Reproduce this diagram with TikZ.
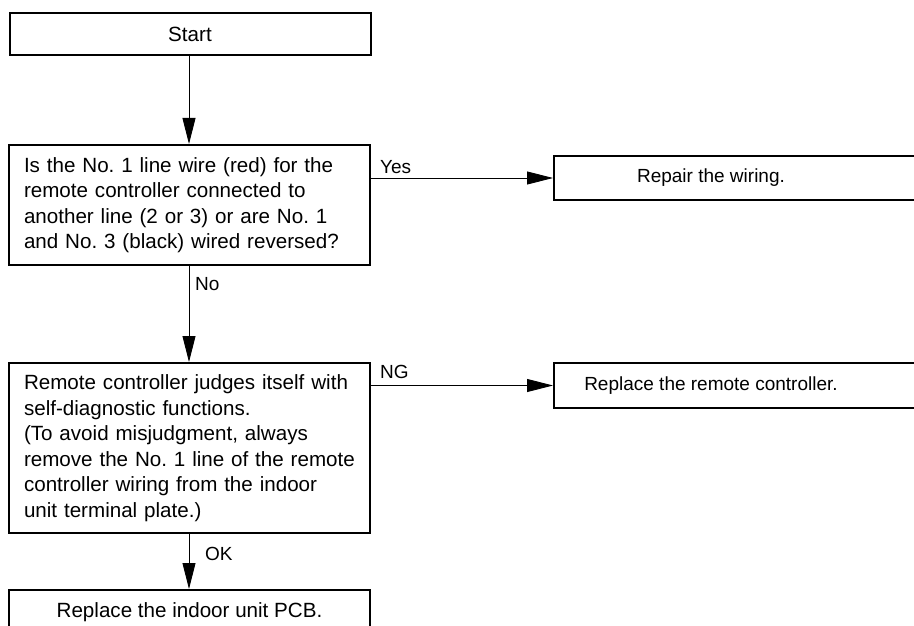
\documentclass[tikz,border=0pt]{standalone}
\usepackage{fontspec}
\setmainfont{Liberation Sans}
\frenchspacing
\usetikzlibrary{arrows.meta}
\begin{document}
\begin{tikzpicture}[x=1pt,y=-1pt,
  box/.style={draw, line width=2pt, inner sep=0pt},
  lbox/.style={box, minimum width=361pt, font=\fontsize{20.6}{25.5}\selectfont},
  ltext/.style={lbox, text width=331pt, align=left, inner xsep=15pt},
  rbox/.style={box, minimum width=420pt, minimum height=44pt, anchor=west, font=\fontsize{19}{23}\selectfont},
  lab/.style={anchor=base west, inner sep=0pt, font=\fontsize{19}{23}\selectfont},
  arr/.style={line width=0.9pt, -{Triangle[length=26pt,width=13pt]}}]
\useasboundingbox (0,0) rectangle (914,626);
\clip (0,0) rectangle (914,626);
\node[lbox, minimum height=42pt] (start) at (190,34) {Start};
\node[ltext, minimum height=120pt] (q1) at (189.5,205) {\mbox{Is the No. 1 line wire (red) for the}\\\mbox{remote controller connected to}\\\mbox{another line (2 or 3) or are No. 1}\\\mbox{and No. 3 (black) wired reversed?}};
\node[ltext, minimum height=170pt] (q2) at (189.5,448) {\mbox{Remote controller judges itself with}\\\mbox{self-diagnostic functions.}\\\mbox{(To avoid misjudgment, always}\\\mbox{remove the No. 1 line of the remote}\\\mbox{controller wiring from the indoor}\\\mbox{unit terminal plate.)}};
\node[lbox, minimum height=44pt] (pcb) at (189.5,612) {Replace the indoor unit PCB.};
\node[rbox] (repair) at (553,178) {\makebox[314pt][c]{Repair the wiring.}\makebox[106pt]{}};
\node[rbox, minimum height=45pt] (remote) at (553,385.5) {\makebox[314pt][c]{Replace the remote controller.}\makebox[106pt]{}};
\draw[arr] (start.south -| 189,0) -- (q1.north -| 189,0);
\draw[arr] (q1.south -| 189,0) -- (q2.north -| 189,0);
\draw[arr] (q2.south -| 189,0) -- (pcb.north -| 189,0);
\draw[arr] (q1.east |- repair.west) -- (repair.west);
\draw[arr] (q2.east |- remote.west) -- (remote.west);
\node[lab] (yes) at (380,173) {Yes};
\node[lab] (ng) at (380,378) {NG};
\node[lab] (no) at (195,290) {No};
\node[lab] (ok) at (205,560) {OK};
\end{tikzpicture}
\end{document}
